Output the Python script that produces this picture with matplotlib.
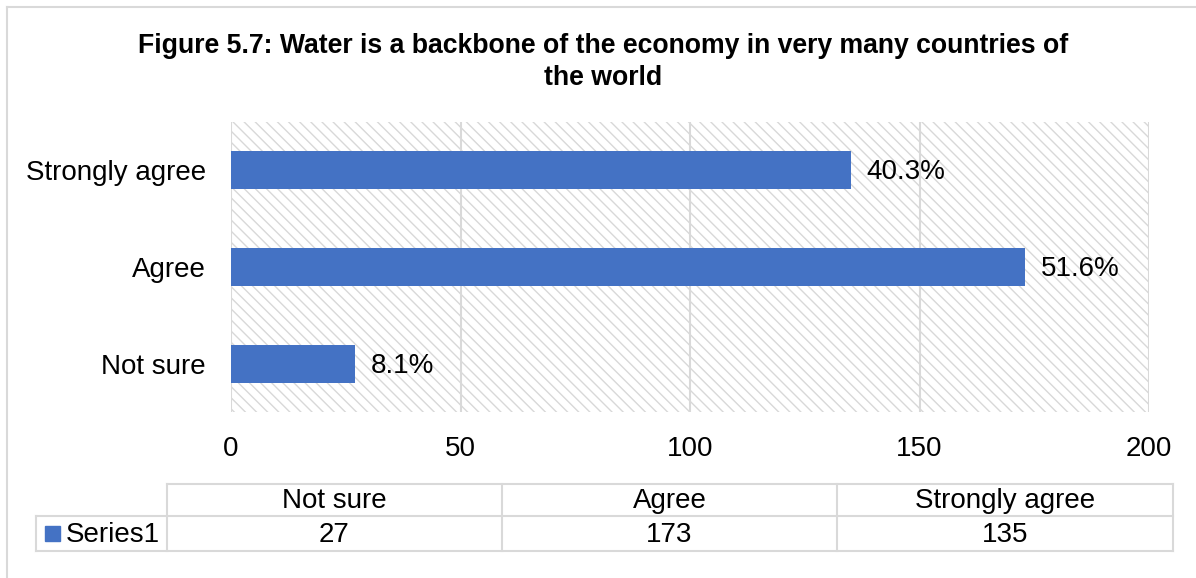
import matplotlib
matplotlib.use('Agg')
import matplotlib.pyplot as plt
from matplotlib.patches import Rectangle
from matplotlib.lines import Line2D

plt.rcParams['font.family'] = ['Liberation Sans', 'DejaVu Sans']
plt.rcParams['hatch.linewidth'] = 1.0

# Data (bottom to top, as in the chart)
categories = ['Not sure', 'Agree', 'Strongly agree']
counts = [27, 173, 135]
percents = ['8.1%', '51.6%', '40.3%']
x_ticks = [0, 50, 100, 150, 200]

title = 'Figure 5.7: Water is a backbone of the economy in very many countries of\nthe world'

W, H = 1196, 578
BAR = '#4472C4'
GRID = '#d9d9d9'
HATCH = '#d8d8d8'
FS = 20

fig = plt.figure(figsize=(W / 100, H / 100), dpi=100)

def fx(px):
    return px / W

def fy(py):
    return 1 - py / H

# chart border (only top and left edges are inside the image)
fig.add_artist(Line2D([fx(7), fx(7)], [fy(7), 0], color=GRID, lw=1.5))
fig.add_artist(Line2D([fx(7), 1], [fy(7), fy(7)], color=GRID, lw=1.5))

ax = fig.add_axes([fx(231), fy(412), fx(1149) - fx(231), (412 - 122) / H])
ax.add_patch(Rectangle((0, 0), 1, 1, transform=ax.transAxes, facecolor='none',
                       edgecolor=HATCH, hatch='\\\\\\', lw=0, zorder=0))

y = range(len(categories))
bars = ax.barh(y, counts, height=0.39, color=BAR, zorder=3)
for b, p in zip(bars, percents):
    ax.text(b.get_width() + 3.5, b.get_y() + b.get_height() / 2 - 0.02, p,
            va='center', ha='left', fontsize=FS, color='#000000')

ax.set_xlim(0, 200)
ax.set_ylim(-0.5, len(categories) - 0.5)
ax.set_xticks(x_ticks)
ax.set_yticks(list(y))
ax.set_yticklabels(categories)
ax.tick_params(axis='both', length=0, labelsize=FS, colors='#000000')
ax.tick_params(axis='y', pad=18)
ax.tick_params(axis='x', pad=17)
ax.grid(axis='x', color=GRID, lw=1.5)
ax.set_axisbelow(True)
for s in ax.spines.values():
    s.set_visible(False)

fig.text(0.504, fy(33), title, ha='center', va='top', fontsize=19.2,
         fontweight='bold', linespacing=1.3)

# data table below the axis
col_edges = [167, 502, 837, 1173]
row_top, row_mid, row_bot = 484, 516, 551
lw = 1.5
fig.add_artist(Line2D([fx(167), fx(1173)], [fy(row_top)] * 2, color=GRID, lw=lw))
fig.add_artist(Line2D([fx(36), fx(1173)], [fy(row_mid)] * 2, color=GRID, lw=lw))
fig.add_artist(Line2D([fx(36), fx(1173)], [fy(row_bot)] * 2, color=GRID, lw=lw))
fig.add_artist(Line2D([fx(36), fx(36)], [fy(row_mid), fy(row_bot)], color=GRID, lw=lw))
for e in col_edges:
    fig.add_artist(Line2D([fx(e), fx(e)], [fy(row_top), fy(row_bot)], color=GRID, lw=lw))

for i, (c, v) in enumerate(zip(categories, counts)):
    cx = (col_edges[i] + col_edges[i + 1]) / 2
    fig.text(fx(cx), fy((row_top + row_mid) / 2 + 1), c, ha='center', va='center', fontsize=FS)
    fig.text(fx(cx), fy((row_mid + row_bot) / 2 + 1), str(v), ha='center', va='center', fontsize=FS)

fig.add_artist(Rectangle((fx(45), fy(541)), fx(60) - fx(45), (541 - 526) / H, color=BAR))
fig.text(fx(66), fy((row_mid + row_bot) / 2 + 1), 'Series1', ha='left', va='center', fontsize=FS)

fig.savefig('out.png', dpi=100, facecolor='white')
